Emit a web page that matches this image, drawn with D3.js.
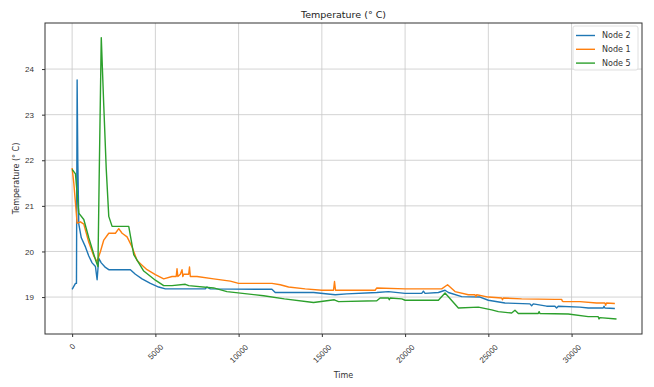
<!DOCTYPE html>
<html>
<head>
<meta charset="utf-8">
<script src="https://cdn.jsdelivr.net/npm/d3@7"></script>
<style>
  body { margin: 0; background: #fff; }
  svg { font-family: "DejaVu Sans", sans-serif; }
</style>
</head>
<body>
<svg width="654" height="387"></svg>
<script>
// series data
const node2Time = [0, 200, 260, 300, 340, 400, 550, 800, 1000, 1200, 1400, 1500, 1600, 1750, 2000, 2200, 3500, 3800, 4200, 4700, 5200, 5600, 8000, 8100, 8300, 12000, 12200, 14500, 15800, 16500, 18300, 19000, 20000, 21000, 21100, 21200, 22000, 22400, 22600, 23400, 24500, 25000, 26000, 27500, 27600, 27700, 28500, 29000, 29100, 29200, 30500, 31000, 31900, 31950, 32000, 32600];
const node2Temp = [19.17, 19.3, 19.3, 23.76, 22.0, 20.6, 20.3, 20.1, 19.9, 19.75, 19.67, 19.38, 19.85, 19.75, 19.65, 19.6, 19.6, 19.5, 19.4, 19.3, 19.22, 19.18, 19.18, 19.22, 19.18, 19.17, 19.1, 19.1, 19.05, 19.07, 19.1, 19.12, 19.08, 19.08, 19.13, 19.08, 19.1, 19.15, 19.1, 19.01, 19.0, 18.93, 18.87, 18.85, 18.81, 18.85, 18.8, 18.8, 18.76, 18.8, 18.78, 18.76, 18.76, 18.8, 18.76, 18.75];

const node1Time = [0, 100, 300, 500, 700, 1000, 1300, 1500, 1700, 1900, 2200, 2600, 2800, 3000, 3300, 3600, 3900, 4200, 4500, 5000, 5500, 6000, 6250, 6300, 6350, 6500, 6600, 6650, 6700, 7000, 7050, 7100, 7500, 8500, 9500, 10000, 12000, 12500, 13000, 14000, 15000, 15700, 15760, 15820, 16500, 18200, 18300, 20000, 22200, 22550, 23000, 23800, 24200, 24250, 24300, 25000, 25800, 25850, 25900, 27000, 29000, 29400, 29450, 29500, 30500, 31500, 32000, 32050, 32100, 32600];
const node1Temp = [21.83, 21.5, 20.62, 20.65, 20.6, 20.2, 19.9, 19.78, 20.0, 20.25, 20.4, 20.4, 20.5, 20.4, 20.32, 20.1, 19.8, 19.7, 19.6, 19.49, 19.4, 19.45, 19.45, 19.62, 19.45, 19.5, 19.6, 19.45, 19.5, 19.5, 19.66, 19.45, 19.45, 19.4, 19.35, 19.3, 19.3, 19.27, 19.22, 19.18, 19.15, 19.15, 19.34, 19.15, 19.15, 19.15, 19.2, 19.18, 19.18, 19.27, 19.12, 19.05, 19.05, 19.01, 19.05, 19.0, 18.98, 18.94, 18.98, 18.96, 18.95, 18.95, 18.91, 18.9, 18.9, 18.87, 18.87, 18.82, 18.87, 18.86];

const node5Time = [0, 200, 400, 700, 1000, 1400, 1550, 1620, 1750, 1900, 2050, 2200, 2400, 3400, 3700, 4300, 5000, 5500, 6000, 6800, 7000, 8500, 9300, 11500, 12750, 14500, 15750, 16000, 18300, 18500, 19000, 19050, 19100, 19800, 20000, 22000, 22400, 23200, 24400, 25200, 25600, 26400, 26600, 26800, 28000, 28050, 28100, 29800, 31000, 31600, 31650, 31700, 32700];
const node5Temp = [21.8, 21.7, 20.84, 20.7, 20.3, 19.82, 19.67, 21.5, 24.69, 23.2, 21.8, 20.77, 20.55, 20.55, 19.93, 19.57, 19.37, 19.25, 19.25, 19.28, 19.25, 19.2, 19.12, 19.03, 18.96, 18.88, 18.94, 18.9, 18.92, 18.98, 18.98, 18.94, 18.98, 18.96, 18.93, 18.93, 19.09, 18.76, 18.78, 18.72, 18.68, 18.65, 18.71, 18.64, 18.64, 18.68, 18.64, 18.63, 18.57, 18.57, 18.52, 18.55, 18.52];

const seriesNames = ["Node 2", "Node 1", "Node 5"];
const seriesColors = ["#1f77b4", "#ff7f0e", "#2ca02c"];
const xTicks = [0, 5000, 10000, 15000, 20000, 25000, 30000];
const yTicks = [19, 20, 21, 22, 23, 24];

const plotLeft = 45, plotRight = 642, plotTop = 23, plotBottom = 334;

const svg = d3.select("svg");

const series = [
  node2Time.map((t, i) => [t, node2Temp[i]]),
  node1Time.map((t, i) => [t, node1Temp[i]]),
  node5Time.map((t, i) => [t, node5Temp[i]])
];

const xScale = d3.scaleLinear().domain([-1630, 34230]).range([plotLeft, plotRight]);
const yScale = d3.scaleLinear().domain([18.19, 25.01]).range([plotBottom, plotTop]);

// grid
svg.append("g")
   .selectAll("line")
   .data(xTicks)
   .enter()
   .append("line")
   .attr("x1", d => xScale(d)).attr("x2", d => xScale(d))
   .attr("y1", plotTop).attr("y2", plotBottom)
   .attr("stroke", "#c8c8c8").attr("stroke-width", 0.8);

svg.append("g")
   .selectAll("line")
   .data(yTicks)
   .enter()
   .append("line")
   .attr("x1", plotLeft).attr("x2", plotRight)
   .attr("y1", d => yScale(d)).attr("y2", d => yScale(d))
   .attr("stroke", "#c8c8c8").attr("stroke-width", 0.8);

// lines
const line = d3.line()
               .x(d => xScale(d[0]))
               .y(d => yScale(d[1]));

svg.append("defs").append("clipPath").attr("id", "plot")
   .append("rect").attr("x", plotLeft).attr("y", plotTop)
   .attr("width", plotRight - plotLeft).attr("height", plotBottom - plotTop);

svg.append("g")
   .attr("clip-path", "url(#plot)")
   .selectAll("path")
   .data(series)
   .enter()
   .append("path")
   .attr("d", line)
   .attr("fill", "none")
   .attr("stroke", (d, i) => seriesColors[i])
   .attr("stroke-width", 1.4)
   .attr("stroke-linejoin", "round");

// axes
const xAxis = svg.append("g")
   .attr("transform", `translate(0, ${plotBottom})`)
   .call(d3.axisBottom(xScale).tickValues(xTicks).tickSize(3).tickFormat(d3.format("d")));
xAxis.select(".domain").remove();
xAxis.selectAll("text").remove();

xAxis.selectAll(".tick")
     .append("text")
     .attr("fill", "#333")
     .style("font-size", "8px")
     .attr("text-anchor", "middle")
     .attr("dominant-baseline", "central")
     .attr("transform", d => {
       const w = String(d).length * 5.1;
       const off = 8 + (w + 8) / (2 * Math.SQRT2);
       return `translate(0, ${off}) rotate(-45)`;
     })
     .text(d => d);

const yAxis = svg.append("g")
   .attr("transform", `translate(${plotLeft}, 0)`)
   .call(d3.axisLeft(yScale).tickValues(yTicks).tickSize(3).tickPadding(8).tickFormat(d3.format("d")));
yAxis.select(".domain").remove();
yAxis.selectAll("text").style("font-size", "8px").attr("fill", "#333");

svg.selectAll(".tick line").attr("stroke", "#333");

svg.append("rect")
   .attr("x", plotLeft).attr("y", plotTop)
   .attr("width", plotRight - plotLeft).attr("height", plotBottom - plotTop)
   .attr("fill", "none").attr("stroke", "#333").attr("stroke-width", 1);

// titles
svg.append("text")
   .attr("x", (plotLeft + plotRight) / 2).attr("y", 18)
   .attr("text-anchor", "middle")
   .attr("fill", "#222")
   .style("font-size", "9.5px")
   .text("Temperature (° C)");

svg.append("text")
   .attr("x", (plotLeft + plotRight) / 2).attr("y", 378)
   .attr("text-anchor", "middle")
   .attr("fill", "#333")
   .style("font-size", "8px")
   .text("Time");

svg.append("text")
   .attr("transform", `translate(19, ${(plotTop + plotBottom) / 2}) rotate(-90)`)
   .attr("text-anchor", "middle")
   .attr("fill", "#333")
   .style("font-size", "8px")
   .text("Temperature (° C)");

// legend
const legend = svg.append("g").attr("transform", "translate(573, 26)");
legend.append("rect")
      .attr("width", 65).attr("height", 44)
      .attr("rx", 2)
      .attr("fill", "#fff").attr("fill-opacity", 0.85)
      .attr("stroke", "#d8d8d8").attr("stroke-width", 0.8);

const items = legend.selectAll(".item")
      .data(seriesNames)
      .enter()
      .append("g")
      .attr("transform", (d, i) => `translate(0, ${9.5 + i * 13.8})`);

items.append("line")
     .attr("x1", 3).attr("x2", 22)
     .attr("stroke", (d, i) => seriesColors[i])
     .attr("stroke-width", 1.4);

items.append("text")
     .attr("x", 29).attr("dy", "0.35em")
     .attr("fill", "#333")
     .style("font-size", "8px")
     .text(d => d);
</script>
</body>
</html>
